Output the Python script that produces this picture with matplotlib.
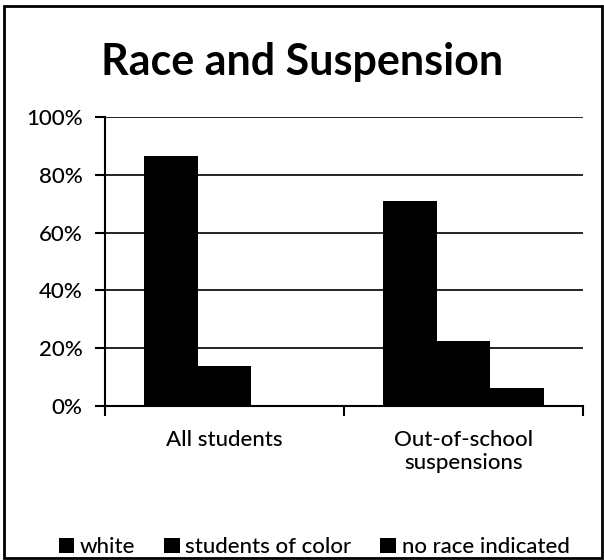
import numpy as np
import matplotlib.pyplot as plt
from matplotlib.patches import Rectangle
from matplotlib.ticker import PercentFormatter

categories = ["All students", "Out-of-school\nsuspensions"]
series = ["white", "students of color", "no race indicated"]
white = [86.5, 70.8]
students_of_color = [13.7, 22.6]
no_race = [0.0, 6.4]

plt.rcParams['font.family'] = ['Lato', 'DejaVu Sans']

fig = plt.figure(figsize=(6.04, 5.60), dpi=100)
ax = fig.add_axes([0.174, 0.275, 0.791, 0.516])

x = np.arange(len(categories))
w = 0.225
for i, (name, vals) in enumerate(zip(series, [white, students_of_color, no_race])):
    ax.bar(x + (i - 1) * w, vals, w, color="black", label=name, zorder=3)

ax.set_xlim(-0.5, 1.5)
ax.set_ylim(0, 100)
ax.set_yticks(np.arange(0, 101, 20))
ax.yaxis.set_major_formatter(PercentFormatter(decimals=0))
ax.yaxis.grid(True, color="black", linewidth=1.2, zorder=0)
ax.set_xticks([-0.5, 0.5, 1.5], minor=False)
ax.set_xticklabels([])
ax.set_xticks(x, minor=True)
ax.set_xticklabels(categories, minor=True, fontsize=16, fontweight="medium")
ax.tick_params(axis="x", which="minor", length=0, pad=17)
ax.tick_params(axis="x", which="major", length=7, width=1.5, direction="out")
ax.tick_params(axis="y", length=7, width=1.5, direction="out", labelsize=16, pad=9)
for lbl in ax.get_yticklabels():
    lbl.set_fontweight("medium")
for s in ["top", "right"]:
    ax.spines[s].set_visible(False)
for s in ["left", "bottom"]:
    ax.spines[s].set_linewidth(1.5)

fig.suptitle("Race and Suspension", fontsize=31, fontweight="bold", x=0.5, y=0.925)

fig.legend(loc="center", bbox_to_anchor=(0.52, 0.023), ncol=3, frameon=False,
           prop={"size": 16, "weight": "medium"}, handlelength=0.7, handleheight=0.7,
           handletextpad=0.25, columnspacing=1.3)

fig.patches.append(Rectangle((0.006, 0.004), 0.99, 0.985, transform=fig.transFigure,
                             fill=False, edgecolor="black", linewidth=2))

fig.savefig("out.png", dpi=100)
